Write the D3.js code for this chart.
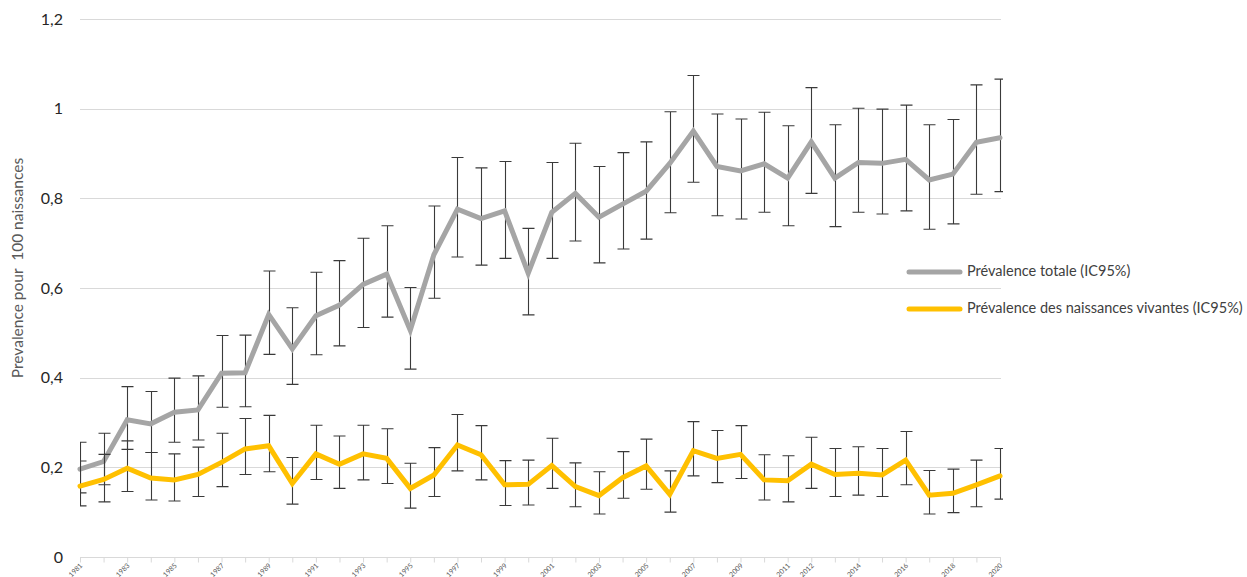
<!DOCTYPE html>
<html lang="fr">
<head>
<meta charset="utf-8">
<script src="https://cdn.jsdelivr.net/npm/d3@7"></script>
<style>
  html, body { margin: 0; padding: 0; background: #fff; }
  svg { display: block; }
  text { font-family: Lato, "Liberation Sans", sans-serif; }
</style>
</head>
<body>
<svg id="chart" width="1247" height="577"></svg>
<script>
// Années de la série
const years = [1981,1982,1983,1984,1985,1986,1987,1988,1989,1990,
               1991,1992,1993,1994,1995,1996,1997,1998,1999,2000,
               2001,2002,2003,2004,2005,2006,2007,2008,2009,2010,
               2011,2012,2013,2014,2015,2016,2017,2018,2019,2020];

// Années affichées sous l'axe
const xTickLabels = [1981,1983,1985,1987,1989,1991,1993,1995,1997,1999,
                     2001,2003,2005,2007,2009,2011,2012,2014,2016,2018,2020];

const yTicks = [0, 0.2, 0.4, 0.6, 0.8, 1.0, 1.2];

// Prévalence totale et IC95%
const totalPrev = [0.196,0.213,0.306,0.297,0.323,0.328,0.410,0.411,0.541,0.464,
                   0.538,0.562,0.608,0.631,0.506,0.674,0.776,0.755,0.772,0.633,
                   0.769,0.811,0.758,0.787,0.816,0.878,0.950,0.871,0.861,0.877,
                   0.845,0.926,0.845,0.880,0.878,0.887,0.841,0.854,0.925,0.935];
const totalLow  = [0.143,0.161,0.240,0.233,0.256,0.261,0.334,0.335,0.452,0.385,
                   0.451,0.471,0.512,0.535,0.419,0.577,0.669,0.651,0.666,0.540,
                   0.666,0.705,0.656,0.687,0.709,0.768,0.836,0.761,0.754,0.769,
                   0.739,0.811,0.737,0.769,0.765,0.772,0.731,0.743,0.809,0.815];
const totalHigh = [0.256,0.276,0.380,0.369,0.399,0.404,0.494,0.495,0.638,0.556,
                   0.635,0.661,0.711,0.739,0.601,0.783,0.891,0.868,0.882,0.733,
                   0.880,0.923,0.871,0.902,0.926,0.993,1.074,0.988,0.977,0.992,
                   0.962,1.047,0.964,1.001,0.999,1.008,0.964,0.976,1.053,1.066];

// Prévalence des naissances vivantes et IC95%
const livePrev = [0.158,0.173,0.198,0.176,0.172,0.184,0.211,0.241,0.248,0.164,
                  0.230,0.207,0.230,0.220,0.153,0.183,0.250,0.228,0.161,0.162,
                  0.204,0.157,0.137,0.177,0.203,0.140,0.237,0.220,0.229,0.172,
                  0.170,0.207,0.184,0.187,0.183,0.216,0.138,0.142,0.161,0.181];
const liveLow  = [0.114,0.123,0.146,0.127,0.125,0.135,0.157,0.184,0.190,0.118,
                  0.173,0.153,0.172,0.164,0.109,0.135,0.192,0.172,0.115,0.116,
                  0.153,0.112,0.096,0.131,0.151,0.100,0.181,0.166,0.175,0.127,
                  0.123,0.153,0.135,0.138,0.135,0.161,0.096,0.099,0.112,0.129];
const liveHigh = [0.214,0.229,0.259,0.233,0.230,0.245,0.276,0.309,0.316,0.222,
                  0.294,0.270,0.294,0.286,0.209,0.244,0.318,0.293,0.215,0.216,
                  0.265,0.210,0.190,0.235,0.263,0.192,0.302,0.282,0.293,0.228,
                  0.226,0.267,0.242,0.246,0.242,0.280,0.193,0.196,0.216,0.242];

const seriesNames = ["Prévalence totale (IC95%)", "Prévalence des naissances vivantes (IC95%)"];
const seriesColors = ["#A5A5A5", "#FFC000"];

const svg = d3.select("#chart");

const x = d3.scalePoint().domain(years).range([80, 1000]);
const y = d3.scaleLinear().domain([0, 1.2]).range([557, 19]);

// Quadrillage horizontal
svg.append("g")
  .selectAll("line")
  .data(yTicks)
  .join("line")
  .attr("x1", 80).attr("x2", 1001)
  .attr("y1", d => Math.round(y(d)) + 0.5)
  .attr("y2", d => Math.round(y(d)) + 0.5)
  .attr("stroke", "#d9d9d9")
  .attr("stroke-width", 1);

// Axe Y (étiquettes seulement)
const yAxis = d3.axisLeft(y)
  .tickValues(yTicks)
  .tickSize(0)
  .tickPadding(0)
  .tickFormat(d => d3.format("~g")(d).replace(".", ","));
const gy = svg.append("g").attr("transform", "translate(63,0)").call(yAxis);
gy.select(".domain").remove();
gy.selectAll("text")
  .attr("font-size", 16)
  .attr("fill", "#262626")
  .style("font-family", "Lato, 'Liberation Sans', sans-serif");

// Axe X
const xAxis = d3.axisBottom(x).tickSize(5).tickFormat("");
const gx = svg.append("g").attr("transform", "translate(0,557.5)").call(xAxis);
gx.select(".domain").attr("stroke", "#d9d9d9").attr("d", "M80,0H1001");
gx.selectAll(".tick line").attr("stroke", "#d9d9d9");

svg.append("g")
  .selectAll("text")
  .data(xTickLabels)
  .join("text")
  .attr("transform", d => `translate(${x(d) + 3},566) rotate(-45)`)
  .attr("text-anchor", "end")
  .attr("font-size", 7)
  .attr("fill", "#595959")
  .text(d => d);

// Titre de l'axe Y
svg.append("text")
  .attr("transform", "translate(23,268) rotate(-90)")
  .attr("text-anchor", "middle")
  .attr("font-size", 15.5)
  .attr("fill", "#595959")
  .style("white-space", "pre")
  .text("Prevalence pour  100 naissances");

// Zone de tracé pour les barres d'erreur
svg.append("clipPath").attr("id", "plotClip")
  .append("rect").attr("x", 80).attr("y", 0).attr("width", 923).attr("height", 577);

const series = [
  { values: totalPrev, low: totalLow, high: totalHigh, color: seriesColors[0] },
  { values: livePrev,  low: liveLow,  high: liveHigh,  color: seriesColors[1] }
];

const line = d3.line()
  .x((d, i) => x(years[i]))
  .y(d => y(d));

const capHalf = 6;

series.forEach(s => {
  const g = svg.append("g");
  const eb = g.append("g").attr("clip-path", "url(#plotClip)")
    .attr("stroke", "#3a3a3a").attr("stroke-width", 1.1).attr("fill", "none");
  eb.selectAll("path")
    .data(years.map((yr, i) => ({ yr, lo: s.low[i], hi: s.high[i] })))
    .join("path")
    .attr("d", d => {
      const cx = Math.round(x(d.yr)) + 0.5;
      const y1 = y(d.hi), y2 = y(d.lo);
      return `M${cx},${y1}V${y2}M${cx - capHalf},${y1}H${cx + capHalf}M${cx - capHalf},${y2}H${cx + capHalf}`;
    });
  g.append("path")
    .datum(s.values)
    .attr("d", line)
    .attr("fill", "none")
    .attr("stroke", s.color)
    .attr("stroke-width", 5)
    .attr("stroke-linejoin", "miter")
    .attr("stroke-linecap", "round");
});

// Légende
const legend = svg.append("g");
const legendY = [272, 309];
seriesNames.forEach((name, i) => {
  legend.append("line")
    .attr("x1", 909).attr("x2", 960)
    .attr("y1", legendY[i]).attr("y2", legendY[i])
    .attr("stroke", seriesColors[i])
    .attr("stroke-width", 5)
    .attr("stroke-linecap", "round");
  legend.append("text")
    .attr("x", 967).attr("y", legendY[i])
    .attr("dominant-baseline", "middle")
    .attr("font-size", 14.5)
    .attr("fill", "#404040")
    .text(name);
});
</script>
</body>
</html>
